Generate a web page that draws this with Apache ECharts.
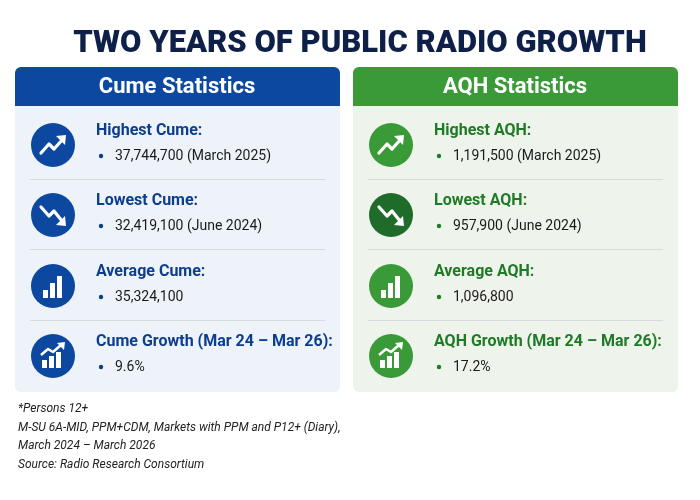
<!DOCTYPE html>
<html><head><meta charset="utf-8">
<script src="https://cdn.jsdelivr.net/npm/echarts@6/dist/echarts.min.js"></script>
<style>html,body{margin:0;padding:0;background:#fff}#main{width:700px;height:500px}</style>
</head><body><div id="main"></div>
<script>
var chartTitle = 'TWO YEARS OF PUBLIC RADIO GROWTH';
var cumeLabels = ['Highest Cume:', 'Lowest Cume:', 'Average Cume:', 'Cume Growth (Mar 24 \u2013 Mar 26):'];
var cumeValues = ['37,744,700 (March 2025)', '32,419,100 (June 2024)', '35,324,100', '9.6%'];
var aqhLabels = ['Highest AQH:', 'Lowest AQH:', 'Average AQH:', 'AQH Growth (Mar 24 \u2013 Mar 26):'];
var aqhValues = ['1,191,500 (March 2025)', '957,900 (June 2024)', '1,096,800', '17.2%'];
var iconTypes = ['up', 'down', 'bars', 'growth'];
var footLines = ['*Persons 12+', 'M-SU 6A-MID, PPM+CDM, Markets with PPM and P12+ (Diary),', 'March 2024 \u2013 March 2026', 'Source: Radio Research Consortium'];

var FONT = 'Roboto';
var rowY = [145, 215, 286, 356];

function icon(type, cx, cy, fill) {
	var els = [{ type: 'circle', shape: { cx: cx, cy: cy, r: 22 }, style: { fill: fill } }];
	var w = { stroke: '#fff', lineWidth: 3.2, fill: null, lineJoin: 'round', lineCap: 'round' };
	if (type == 'up') {
		els.push({ type: 'polyline', shape: { points: [[cx - 12, cy + 8], [cx - 4, cy - 1], [cx + 1, cy + 4], [cx + 10, cy - 6]] }, style: w });
		els.push({ type: 'polygon', shape: { points: [[cx + 13, cy - 10], [cx + 3, cy - 9], [cx + 12, cy]] }, style: { fill: '#fff' } });
	} else if (type == 'down') {
		els.push({ type: 'polyline', shape: { points: [[cx - 12, cy - 8], [cx - 4, cy + 1], [cx + 1, cy - 4], [cx + 9, cy + 6]] }, style: w });
		els.push({ type: 'polygon', shape: { points: [[cx + 13, cy + 11], [cx + 3, cy + 10], [cx + 12, cy + 1]] }, style: { fill: '#fff' } });
	} else if (type == 'bars') {
		[[-10, 4], [-3, -3], [4, -10]].forEach(function (b) {
			els.push({ type: 'rect', shape: { x: cx + b[0], y: cy + b[1], width: 5, height: 12 - b[1] }, style: { fill: '#fff' } });
		});
	} else {
		[[-11, 4], [-4, 0], [3, -4]].forEach(function (b) {
			els.push({ type: 'rect', shape: { x: cx + b[0], y: cy + b[1], width: 5, height: 12 - b[1] }, style: { fill: '#fff' } });
		});
		els.push({ type: 'polyline', shape: { points: [[cx - 12, cy - 1], [cx - 5, cy - 7], [cx, cy - 4], [cx + 8, cy - 11]] }, style: { stroke: '#fff', lineWidth: 2.5, fill: null, lineJoin: 'round' } });
		els.push({ type: 'polygon', shape: { points: [[cx + 12, cy - 14], [cx + 4, cy - 13], [cx + 11, cy - 6]] }, style: { fill: '#fff' } });
	}
	return els;
}

function panel(x, title, head, body, dark, darkAlt, labels, values) {
	var els = [];
	els.push({ type: 'rect', shape: { x: x, y: 67, width: 325, height: 325, r: 6 }, style: { fill: body } });
	els.push({ type: 'rect', shape: { x: x, y: 67, width: 325, height: 39, r: [6, 6, 0, 0] }, style: { fill: head } });
	els.push({ type: 'text', x: x + 162, y: 87, style: { text: title, fill: '#fff', font: 'bold 22px ' + FONT, align: 'center', verticalAlign: 'middle' } });
	for (var i = 0; i < 4; i++) {
		var y = rowY[i];
		if (i < 3) els.push({ type: 'rect', shape: { x: x + 15, y: y + 34, width: 295, height: 1 }, style: { fill: '#d6dbe0' } });
		els = els.concat(icon(iconTypes[i], x + 38, y, i == 1 ? darkAlt : head));
		els.push({ type: 'text', x: x + 81, y: y - 14, style: { text: labels[i], fill: dark, font: 'bold 16px ' + FONT, verticalAlign: 'middle' } });
		els.push({ type: 'circle', shape: { cx: x + 86, cy: y + 11, r: 2.2 }, style: { fill: dark } });
		els.push({ type: 'text', x: x + 100, y: y + 11, style: { text: values[i], fill: '#1a1a1a', font: '14px ' + FONT, verticalAlign: 'middle' } });
	}
	return els;
}

var graphics = [];
graphics.push({ type: 'text', x: 360, y: 44, style: { text: chartTitle, fill: '#0e1f48', font: '900 31px ' + FONT, align: 'center', verticalAlign: 'middle' } });
graphics = graphics.concat(panel(15, 'Cume Statistics', '#0c48a0', '#eef3f9', '#0c3d8f', '#0c48a0', cumeLabels, cumeValues));
graphics = graphics.concat(panel(353, 'AQH Statistics', '#3a9a38', '#eef4ec', '#1f7a26', '#1e6b2a', aqhLabels, aqhValues));
footLines.forEach(function (t, i) {
	graphics.push({ type: 'text', x: 18, y: 409 + i * 18.5, style: { text: t, fill: '#222', font: 'italic 12px ' + FONT, verticalAlign: 'middle' } });
});

var myChart = echarts.init(document.getElementById('main'));
myChart.setOption({ animation: false, graphic: { elements: graphics } });
</script></body></html>
